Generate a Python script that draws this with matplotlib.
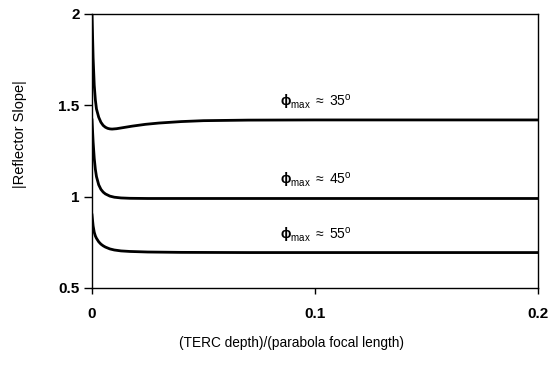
import matplotlib.pyplot as plt

plt.rcParams['font.family'] = ['Liberation Sans', 'DejaVu Sans']
plt.rcParams['mathtext.fontset'] = 'custom'
plt.rcParams['mathtext.rm'] = 'Liberation Sans'
plt.rcParams['mathtext.it'] = 'Liberation Sans'
plt.rcParams['mathtext.bf'] = 'Liberation Sans:bold'

# slope curves for each maximum angle
x_35 = [0, 0.0005, 0.001, 0.0015, 0.002, 0.003, 0.004, 0.005, 0.006, 0.007, 0.008, 0.009,
        0.011, 0.014, 0.018, 0.024, 0.03, 0.04, 0.05, 0.07, 0.1, 0.2]
y_35 = [2.0, 1.76, 1.61, 1.53, 1.48, 1.435, 1.407, 1.39, 1.38, 1.374, 1.371, 1.37,
        1.372, 1.378, 1.386, 1.396, 1.403, 1.411, 1.416, 1.419, 1.42, 1.42]

x_45 = [0, 0.0005, 0.001, 0.0015, 0.002, 0.003, 0.004, 0.005, 0.006, 0.008, 0.01, 0.013,
        0.017, 0.025, 0.04, 0.2]
y_45 = [1.42, 1.30, 1.21, 1.15, 1.11, 1.065, 1.04, 1.025, 1.015, 1.003, 0.997, 0.993,
        0.991, 0.99, 0.99, 0.99]

x_55 = [0, 0.0005, 0.001, 0.0015, 0.002, 0.003, 0.004, 0.005, 0.006, 0.008, 0.01, 0.013,
        0.017, 0.025, 0.04, 0.07, 0.2]
y_55 = [0.90, 0.84, 0.805, 0.785, 0.772, 0.753, 0.740, 0.731, 0.724, 0.714, 0.708, 0.703,
        0.700, 0.697, 0.695, 0.694, 0.694]

angles = ['35', '45', '55']
label_y = [1.516, 1.089, 0.788]

fig = plt.figure(figsize=(5.6, 3.68), dpi=100)
ax = fig.add_axes([0.1643, 0.2174, 0.7964, 0.7446])

for xs, ys in [(x_35, y_35), (x_45, y_45), (x_55, y_55)]:
    ax.plot(xs, ys, color='black', linewidth=2.0, solid_joinstyle='round')

for ang, ly in zip(angles, label_y):
    ax.text(0.0843, ly, r'$\mathbf{\phi}_{\rm max}$ $\approx$ ' + ang + r'$^{\rm o}$',
            fontsize=10, va='center', ha='left')

ax.set_xlim(0, 0.2)
ax.set_ylim(0.5, 2)
ax.set_xticks([0, 0.1, 0.2])
ax.set_xticklabels(['0', '0.1', '0.2'])
ax.set_yticks([0.5, 1, 1.5, 2])
ax.set_yticklabels(['0.5', '1', '1.5', '2'])
for lbl in ax.get_xticklabels() + ax.get_yticklabels():
    lbl.set_fontweight('bold')
ax.tick_params(axis='y', direction='out', length=6, width=1, labelsize=11, pad=3)
ax.tick_params(axis='x', direction='out', length=4, width=1, labelsize=11, pad=10)
for sp in ax.spines.values():
    sp.set_linewidth(1.0)

fig.text(0.521, 0.068, '(TERC depth)/(parabola focal length)', fontsize=9.8,
         ha='center', va='center')
fig.text(0.036, 0.636, '|Reflector Slope|', fontsize=10.5, rotation=90,
         ha='center', va='center')

fig.savefig('out.png', dpi=100)
